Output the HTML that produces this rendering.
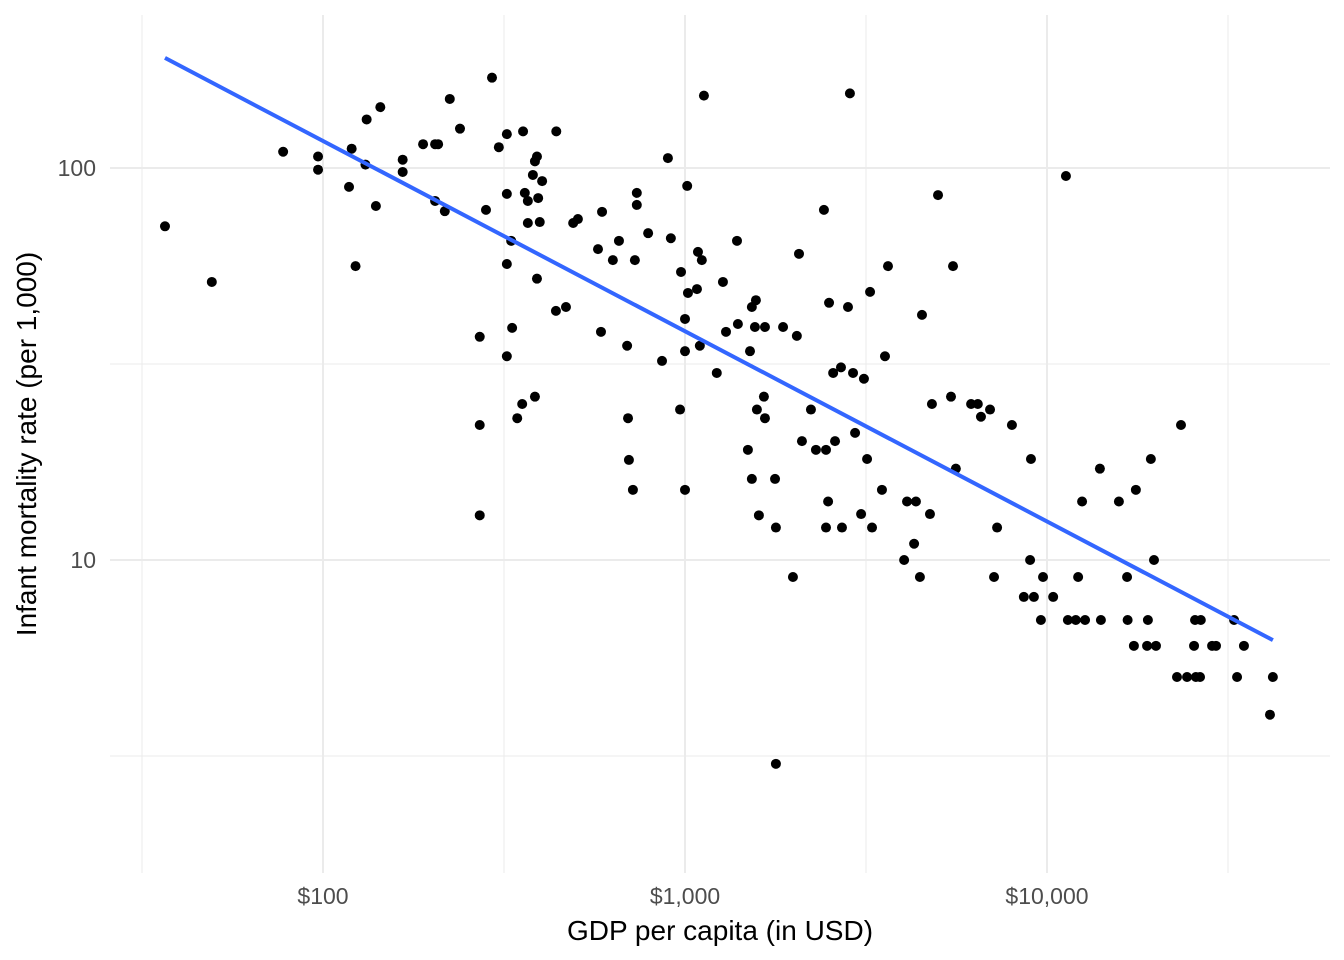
<!DOCTYPE html>
<html><head><meta charset="utf-8"><style>
html,body{margin:0;padding:0;background:#fff;}
svg{display:block;font-family:"Liberation Sans",sans-serif;}
</style></head><body>
<svg id="chart" width="1344" height="960" viewBox="0 0 1344 960"></svg>
<script>
const gdp = [36.6,49.3,77.6,96.9,96.9,118,120,123,131,132,140,144,166,166,189,204,208,204,217,224,239,271,271,271,282,293,306,322,322,322,322,331,333,344,355,357,361,368,368,380,385,390,385,390,393,397,403,440,441,469,491,506,575,586,590,632,657,692,696,700,718,727,736,736,791,864,897,914,975,969,1000,1000,1000,1014,1019,1079,1086,1099,1113,1128,1224,1273,1298,1392,1400,1492,1512,1530,1530,1560,1570,1580,1600,1652,1663,1663,1773,1783,1783,1866,1987,2037,2065,2104,2228,2300,2420,2452,2452,2500,2485,2566,2597,2697,2714,2820,2855,2912,2950,3065,3121,3184,3245,3286,3500,3568,3637,4030,4105,4294,4345,4456,4515,4750,4810,5000,5430,5500,5600,6170,6440,6570,6960,7140,7280,8000,8980,9030,8630,9200,9620,9750,10400,11280,11420,12010,12190,12500,12740,14000,14090,15800,16640,16700,17380,17600,18900,19000,19360,19750,20000,22860,23450,24370,25480,25640,25780,26470,26600,28580,29300,32870,33500,35000,41300,42070];
const mortality = [71,51.2,110,107,99,89.5,112,56.2,102,133,80,143,105,97.7,115,115,115,82.4,77.6,150,126,37.1,22.1,13.0,78.2,170,113,85.9,122,56.9,33.1,65.2,39.1,23.0,25.0,124,86.4,72.4,82.4,96,104,107,26.1,52.2,83.8,72.8,92.6,43.2,124,44.2,72.4,74.1,62.1,38.2,77.3,58.2,65.2,35.2,23.0,18.0,15.1,58.2,86.4,80.5,68.2,32.2,106,66.2,54.3,24.2,15.1,41.2,34.1,90,48,49.1,61.1,35.2,58.2,153,30,51.2,38.2,65.2,40,19.1,34.1,44.2,16.1,39.3,46,24.2,13,26.1,23,39.3,16.1,12.1,3.02,39.3,9.05,37.3,60.4,20.1,24.2,19.1,78.2,19.1,12.1,45.3,14.1,30,20.1,31,12.1,44.2,155,30,21.1,13.1,29,18.1,48.3,12.1,15.1,33.1,56.2,10,14.1,11.0,14.1,9.05,42.2,13.1,25,85.3,26.1,56.2,17.1,25,25,23.2,24.2,9.05,12.1,22.1,10,18.1,8.05,8.05,7.03,9.05,8.05,95.4,7.03,7.03,9.05,14.1,7.03,17.1,7.03,14.1,9.05,7.03,6.04,15.1,6.04,7.03,18.1,10,6.04,5.03,22.1,5.03,6.04,7.03,5.03,5.03,7.03,6.04,6.04,7.03,5.03,6.04,4.03,5.03];
const xTickValues = [100,1000,10000];
const xTickLabels = ["$100","$1,000","$10,000"];
const yTickValues = [10,100];
const yTickLabels = ["10","100"];

const NS = "http://www.w3.org/2000/svg";
const svg = document.getElementById('chart');
const P = {l:110, r:1330, t:15, b:873};
function xs(v){ return 323 + (Math.log10(v)-2)*362; }
function ys(v){ return 168 - (Math.log10(v)-2)*392; }
function mk(tag, attrs, parent){ const e=document.createElementNS(NS,tag); for(const k in attrs) e.setAttribute(k,attrs[k]); (parent||svg).appendChild(e); return e; }

const grid = mk('g',{});


[1,2,3,4].forEach(p=>{ const v=Math.pow(10,p+0.5); mk('line',{x1:xs(v),x2:xs(v),y1:P.t,y2:P.b,stroke:'#ebebeb','stroke-width':1},grid); });
[0,1,2].forEach(p=>{ const v=Math.pow(10,p+0.5); mk('line',{x1:P.l,x2:P.r,y1:ys(v),y2:ys(v),stroke:'#ebebeb','stroke-width':1},grid); });
xTickValues.forEach(v=>mk('line',{x1:xs(v),x2:xs(v),y1:P.t,y2:P.b,stroke:'#ebebeb','stroke-width':2},grid));
yTickValues.forEach(v=>mk('line',{x1:P.l,x2:P.r,y1:ys(v),y2:ys(v),stroke:'#ebebeb','stroke-width':2},grid));

xTickValues.forEach((v,i)=>{
  const t=mk('text',{x:xs(v),y:904,'text-anchor':'middle','font-size':23,fill:'#4d4d4d'});
  t.textContent=xTickLabels[i];
  
  
});
yTickValues.forEach((v,i)=>{
  const t=mk('text',{x:96,y:ys(v)+8,'text-anchor':'end','font-size':23,fill:'#4d4d4d'});
  t.textContent=yTickLabels[i];
  
  
});

const pts = mk('g',{});


gdp.forEach((g,i)=>{
  const c=mk('circle',{cx:xs(g),cy:ys(mortality[i]),r:5,fill:'#000'},pts);
  
  
});

const lx=gdp.map(Math.log10), ly=mortality.map(Math.log10);
const n=lx.length, mx=lx.reduce((a,b)=>a+b)/n, my=ly.reduce((a,b)=>a+b)/n;
let sxy=0,sxx=0; for(let i=0;i<n;i++){sxy+=(lx[i]-mx)*(ly[i]-my); sxx+=(lx[i]-mx)**2;}
const slope=sxy/sxx, icpt=my-slope*mx;
const x0=Math.min(...lx), x1=Math.max(...lx);
const fit=mk('line',{x1:xs(Math.pow(10,x0)),y1:ys(Math.pow(10,icpt+slope*x0)),x2:xs(Math.pow(10,x1)),y2:ys(Math.pow(10,icpt+slope*x1)),stroke:'#3366FF','stroke-width':4});



const xt=mk('text',{x:720,y:940,'text-anchor':'middle','font-size':28,fill:'#000'});
xt.textContent='GDP per capita (in USD)';


const yt=mk('text',{x:0,y:0,'text-anchor':'middle','font-size':28,fill:'#000',transform:'translate(36,444) rotate(-90)'});
yt.textContent='Infant mortality rate (per 1,000)';


</script>
</body></html>
